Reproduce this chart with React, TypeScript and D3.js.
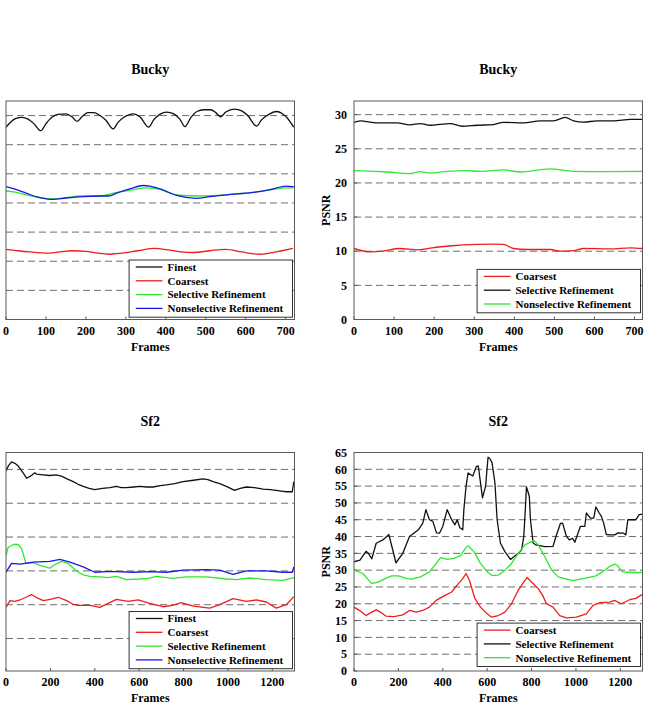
import React from 'react';
import * as d3 from 'd3';

type Pt = [number, number];

// ---- axis ticks ----
const BUCKY_FRAME_TICKS = [0, 100, 200, 300, 400, 500, 600, 700];
const SF2_FRAME_TICKS = [0, 200, 400, 600, 800, 1000, 1200];
const BUCKY_PSNR_TICKS = [0, 5, 10, 15, 20, 25, 30];
const SF2_PSNR_TICKS = [0, 5, 10, 15, 20, 25, 30, 35, 40, 45, 50, 55, 60, 65];
const BUCKY_QUALITY_GRID = [30, 35, 40, 45, 50, 55, 60];
const SF2_QUALITY_GRID = [30, 35, 40, 45, 50, 55];

// ---- Bucky, quality per frame ----
const buckyFinest: Pt[] = [
  [0, 58.0], [12, 58.9], [25, 59.5], [40, 59.7], [55, 59.4], [70, 58.6], [87, 57.4],
  [100, 58.6], [115, 59.7], [130, 60.2], [150, 60.3], [165, 59.8], [178, 59.0],
  [190, 59.8], [205, 60.5], [220, 60.5], [235, 60.0], [250, 59.2], [268, 57.7],
  [280, 58.8], [295, 59.7], [318, 60.3], [335, 59.8], [357, 58.0], [370, 59.3],
  [385, 60.2], [402, 60.6], [420, 60.3], [435, 59.4], [448, 58.1], [462, 59.6],
  [478, 60.7], [495, 61.0], [512, 61.0], [525, 60.5], [537, 59.8], [550, 60.6],
  [572, 61.1], [590, 60.8], [605, 60.0], [627, 58.2], [640, 59.3], [660, 60.3],
  [677, 60.7], [692, 60.3], [705, 59.5], [720, 58.0],
];
const buckyCoarsest: Pt[] = [
  [0, 37.05], [30, 36.8], [60, 36.6], [108, 36.4], [135, 36.6], [165, 36.8],
  [200, 36.7], [230, 36.4], [258, 36.2], [290, 36.4], [330, 36.8], [371, 37.2],
  [410, 36.9], [440, 36.6], [467, 36.5], [510, 36.8], [550, 37.05], [590, 36.6],
  [633, 36.2], [660, 36.4], [690, 36.8], [718, 37.2],
];
const buckySelective: Pt[] = [
  [0, 47.05], [20, 46.9], [50, 46.4], [80, 45.95], [114, 45.7], [150, 45.9],
  [185, 46.2], [235, 46.2], [277, 46.8], [320, 47.3], [352, 47.6], [380, 47.4],
  [427, 46.4], [477, 46.2], [551, 46.4], [618, 46.8], [660, 47.2], [702, 47.6], [720, 47.6],
];
const buckyNonselective: Pt[] = [
  [0, 47.8], [20, 47.4], [50, 46.7], [80, 46.0], [118, 45.6], [150, 45.85],
  [193, 46.1], [235, 46.2], [257, 46.2], [277, 46.7], [310, 47.4], [343, 48.0],
  [360, 47.9], [390, 47.3], [427, 46.3], [477, 45.8], [510, 46.1], [551, 46.4],
  [618, 46.8], [660, 47.3], [702, 47.9], [720, 47.8],
];

// ---- Bucky, PSNR per frame ----
const buckyCoarsestPsnr: Pt[] = [
  [0, 10.4], [40, 9.9], [72, 10.0], [113, 10.4], [162, 10.2], [195, 10.5],
  [245, 10.8], [307, 11.0], [348, 11.05], [373, 11.0], [398, 10.4], [432, 10.25],
  [490, 10.25], [515, 10.0], [548, 10.1], [573, 10.4], [640, 10.35], [690, 10.5], [720, 10.4],
];
const buckySelectivePsnr: Pt[] = [
  [0, 28.87], [15, 29.1], [57, 28.8], [107, 28.8], [140, 28.5], [165, 28.7],
  [190, 28.45], [240, 28.7], [270, 28.3], [307, 28.45], [348, 28.55], [373, 28.87],
  [423, 28.8], [465, 29.1], [498, 29.1], [527, 29.6], [548, 29.1], [573, 28.9],
  [607, 29.1], [648, 29.1], [690, 29.3], [720, 29.3],
];
const buckyNonselectivePsnr: Pt[] = [
  [0, 21.8], [82, 21.6], [140, 21.37], [165, 21.65], [190, 21.45], [232, 21.7],
  [282, 21.8], [315, 21.7], [373, 21.9], [415, 21.6], [490, 22.05], [548, 21.7],
  [623, 21.65], [720, 21.7],
];

// ---- Sf2, quality per frame ----
const sf2Finest: Pt[] = [
  [0, 54.8], [12, 55.6], [25, 56.1], [40, 55.9], [55, 55.5], [75, 54.6], [93, 53.7],
  [110, 54.0], [130, 54.5], [138, 54.3], [165, 54.2], [198, 54.1], [225, 54.2],
  [250, 54.0], [275, 53.6], [303, 53.2], [325, 52.8], [348, 52.5], [375, 52.2],
  [400, 52.0], [435, 52.2], [468, 52.3], [498, 52.5], [520, 52.3], [543, 52.3],
  [575, 52.4], [603, 52.5], [633, 52.4], [663, 52.4], [695, 52.6], [723, 52.7],
  [760, 52.9], [798, 53.2], [845, 53.4], [888, 53.6], [910, 53.5], [933, 53.2],
  [963, 52.9], [993, 52.5], [1030, 51.9], [1055, 52.2], [1083, 52.4], [1120, 52.3],
  [1158, 52.1], [1190, 52.0], [1218, 51.9], [1240, 51.8], [1263, 51.7], [1290, 51.7],
  [1297, 53.2],
];
const sf2Coarsest: Pt[] = [
  [0, 34.6], [18, 35.6], [40, 35.5], [63, 35.7], [90, 36.1], [115, 36.5],
  [140, 36.0], [168, 35.6], [200, 35.8], [235, 36.1], [273, 35.6], [300, 35.1],
  [325, 34.9], [378, 34.9], [423, 34.6], [460, 35.2], [498, 35.8], [550, 35.5],
  [595, 35.7], [648, 35.2], [708, 34.7], [750, 34.9], [790, 35.3], [843, 34.8],
  [918, 34.5], [963, 35.0], [1023, 35.9], [1083, 35.5], [1128, 35.7], [1173, 35.4],
  [1218, 34.5], [1263, 35.0], [1297, 36.2],
];
const sf2Selective: Pt[] = [
  [0, 42.3], [10, 43.5], [33, 43.9], [55, 43.9], [70, 43.3], [90, 41.1],
  [123, 41.2], [153, 40.8], [198, 40.4], [213, 40.8], [250, 41.4], [280, 41.1],
  [300, 40.5], [325, 39.8], [350, 39.4], [378, 39.2], [423, 39.1], [460, 39.0],
  [498, 39.2], [543, 38.7], [603, 38.8], [640, 38.9], [678, 39.2], [753, 38.9],
  [813, 39.1], [903, 39.1], [993, 38.8], [1038, 38.7], [1098, 38.95], [1173, 38.7],
  [1248, 38.6], [1297, 39.0],
];
const sf2Nonselective: Pt[] = [
  [0, 39.8], [25, 41.1], [63, 41.0], [123, 41.3], [198, 41.4], [243, 41.7],
  [288, 41.3], [348, 40.6], [400, 39.8], [450, 39.9], [498, 39.9], [573, 39.8],
  [648, 39.9], [723, 39.8], [798, 40.1], [903, 40.2], [963, 40.1], [1023, 39.5],
  [1083, 40.0], [1173, 40.0], [1248, 39.8], [1290, 39.8], [1297, 40.6],
];

// ---- Sf2, PSNR per frame ----
const sf2CoarsestPsnr: Pt[] = [
  [0, 19.0], [30, 17.8], [55, 16.5], [80, 17.5], [100, 18.2], [120, 17.5],
  [145, 16.3], [180, 16.2], [220, 16.7], [250, 18.0], [280, 17.5], [310, 18.0],
  [340, 19.0], [370, 21.0], [410, 22.5], [440, 23.5], [470, 26.0], [490, 27.5],
  [505, 29.0], [520, 27.0], [545, 21.5], [570, 19.0], [600, 17.0], [620, 16.0],
  [650, 16.5], [680, 17.5], [710, 20.0], [740, 24.0], [765, 26.5], [780, 27.8],
  [800, 26.5], [830, 24.5], [850, 22.5], [867, 20.0], [897, 19.0], [927, 16.5],
  [957, 15.8], [1002, 16.0], [1047, 17.0], [1077, 19.5], [1107, 20.3], [1152, 20.5],
  [1174, 21.0], [1204, 20.0], [1242, 21.2], [1270, 21.6], [1300, 22.8],
];
const sf2SelectivePsnr: Pt[] = [
  [0, 32.5], [27, 33.0], [54, 35.6], [65, 35.0], [80, 33.4], [100, 38.0],
  [130, 39.0], [157, 40.6], [189, 32.2], [220, 35.0], [250, 40.0], [290, 42.0],
  [310, 44.0], [324, 48.0], [340, 45.0], [355, 44.5], [372, 41.1], [385, 41.0],
  [400, 43.0], [420, 48.0], [440, 45.0], [455, 43.5], [465, 45.0], [477, 42.6],
  [490, 42.0], [495, 48.0], [505, 55.0], [514, 58.9], [535, 58.0], [552, 60.9],
  [560, 61.0], [579, 51.5], [593, 55.0], [604, 63.6], [612, 63.2], [622, 62.0],
  [635, 56.0], [645, 45.0], [660, 38.0], [680, 35.5], [705, 33.2], [720, 34.0],
  [740, 35.0], [755, 36.0], [765, 40.0], [772, 48.0], [777, 54.8], [790, 52.0],
  [795, 45.0], [807, 38.1], [820, 37.5], [860, 37.0], [897, 37.1], [910, 40.0],
  [930, 43.9], [940, 44.0], [957, 40.1], [970, 39.0], [985, 39.5], [995, 38.3],
  [1020, 43.0], [1040, 43.0], [1047, 47.0], [1065, 45.5], [1080, 45.5], [1090, 48.8],
  [1105, 47.0], [1115, 46.0], [1125, 44.0], [1137, 40.6], [1155, 40.5], [1175, 40.5],
  [1190, 41.1], [1215, 41.0], [1225, 40.5], [1234, 45.0], [1255, 45.0], [1270, 45.0],
  [1285, 46.5], [1300, 46.7],
];
const sf2NonselectivePsnr: Pt[] = [
  [0, 30.0], [40, 29.0], [80, 26.0], [110, 26.5], [140, 27.5], [170, 28.3],
  [200, 28.3], [240, 27.5], [260, 27.3], [300, 28.0], [340, 29.5], [370, 32.0],
  [390, 33.7], [420, 33.2], [450, 33.5], [480, 34.3], [505, 36.8], [515, 37.2],
  [540, 35.5], [570, 32.0], [600, 29.5], [622, 28.4], [650, 28.5], [680, 30.0],
  [710, 32.0], [740, 35.0], [770, 37.5], [800, 38.5], [812, 38.8], [830, 37.5],
  [860, 34.0], [890, 30.0], [920, 28.0], [950, 27.5], [985, 26.9], [1010, 27.2],
  [1050, 27.7], [1090, 28.3], [1120, 29.5], [1150, 31.0], [1174, 31.8], [1185, 31.5],
  [1210, 29.5], [1250, 29.3], [1300, 29.3],
];

const BLACK = '#111111';
const RED = '#f01c1c';
const GREEN = '#2ee82e';
const BLUE = '#1717e6';
const FONT = '"Liberation Serif", "Times New Roman", serif';

interface Series {
  name: string;
  color: string;
  points: Pt[];
}

interface PanelProps {
  id: string;
  left: number;
  top: number;
  width: number;
  height: number;
  title: string;
  xMax: number;
  xTicks: number[];
  yDomain: [number, number];
  grid: number[];
  yLabels?: number[];
  series: Series[];
  legendGap: number;
  smooth: boolean;
}

function Panel(p: PanelProps) {
  const x = d3.scaleLinear().domain([0, p.xMax]).range([p.left, p.left + p.width]);
  const y = d3.scaleLinear().domain(p.yDomain).range([p.top + p.height, p.top]);
  const line = d3
    .line<Pt>()
    .x((d) => x(d[0]))
    .y((d) => y(d[1]))
    .curve(p.smooth ? d3.curveMonotoneX : d3.curveLinear);

  const bottom = p.top + p.height;
  const right = p.left + p.width;
  const rowH = 13.8;
  const legW = 163.4;
  const legH = p.series.length * rowH + 2;
  const legX = right - 2 - legW;
  const legY = bottom - p.legendGap - legH;

  return (
    <g>
      <defs>
        <clipPath id={`clip-${p.id}`}>
          <rect x={p.left} y={p.top} width={p.width} height={p.height} />
        </clipPath>
      </defs>
      <text
        x={p.left + p.width / 2}
        y={p.top - 27}
        textAnchor="middle"
        fontFamily={FONT}
        fontWeight="bold"
        fontSize={14}
      >
        {p.title}
      </text>

      {p.grid.map((g) => (
        <line
          key={`g${g}`}
          x1={p.left}
          x2={right}
          y1={y(g)}
          y2={y(g)}
          stroke="#6e6e6e"
          strokeWidth={1}
          strokeDasharray="7,4"
        />
      ))}

      {p.xTicks.map((t) => (
        <g key={`x${t}`}>
          <line x1={x(t)} x2={x(t)} y1={bottom} y2={bottom - 3} stroke="#555" />
          <text
            x={x(t)}
            y={bottom + 15}
            textAnchor="middle"
            fontFamily={FONT}
            fontWeight="bold"
            fontSize={12}
          >
            {t}
          </text>
        </g>
      ))}
      <text
        x={p.left + p.width / 2}
        y={bottom + 31}
        textAnchor="middle"
        fontFamily={FONT}
        fontWeight="bold"
        fontSize={12}
      >
        Frames
      </text>

      {p.yLabels && (
        <g>
          {p.yLabels.map((t) => (
            <g key={`y${t}`}>
              <line x1={p.left} x2={p.left + 3} y1={y(t)} y2={y(t)} stroke="#555" />
              <text
                x={p.left - 7}
                y={y(t)}
                dy="0.35em"
                textAnchor="end"
                fontFamily={FONT}
                fontWeight="bold"
                fontSize={12}
              >
                {t}
              </text>
            </g>
          ))}
          <text
            transform={`translate(${p.left - 28},${p.top + p.height / 2}) rotate(-90)`}
            textAnchor="middle"
            dy="0.35em"
            fontFamily={FONT}
            fontWeight="bold"
            fontSize={12}
          >
            PSNR
          </text>
        </g>
      )}

      <g clipPath={`url(#clip-${p.id})`}>
        {p.series.map((s) => (
          <path
            key={s.name}
            d={line(s.points) ?? ''}
            fill="none"
            stroke={s.color}
            strokeWidth={1.3}
            strokeLinejoin="round"
          />
        ))}
      </g>

      <rect
        x={p.left}
        y={p.top}
        width={p.width}
        height={p.height}
        fill="none"
        stroke="#5a5a5a"
        strokeWidth={1}
      />

      <g>
        <rect x={legX} y={legY} width={legW} height={legH} fill="#fff" stroke="#333" strokeWidth={1} />
        {p.series.map((s, i) => {
          const cy = legY + 7 + i * rowH;
          return (
            <g key={`l${s.name}`}>
              <line x1={legX + 6.7} x2={legX + 33.4} y1={cy} y2={cy} stroke={s.color} strokeWidth={1.3} />
              <text
                x={legX + 38.4}
                y={cy}
                dy="0.35em"
                fontFamily={FONT}
                fontWeight="bold"
                fontSize={11}
              >
                {s.name}
              </text>
            </g>
          );
        })}
      </g>
    </g>
  );
}

export default function App() {
  const leftX = 6;
  const rightX = 354;
  const w = 288.5;
  const topY = 101;
  const botY = 452.5;
  const h = 218.5;

  return (
    <svg
      width={657}
      height={708}
      viewBox="0 0 657 708"
      style={{ position: 'absolute', left: 0, top: 0, background: '#fff' }}
    >
      <Panel
        id="bq"
        left={leftX}
        top={topY}
        width={w}
        height={h}
        title="Bucky"
        xMax={722}
        xTicks={BUCKY_FRAME_TICKS}
        yDomain={[25, 62.5]}
        grid={BUCKY_QUALITY_GRID}
        legendGap={2.3}
        smooth
        series={[
          { name: 'Finest', color: BLACK, points: buckyFinest },
          { name: 'Coarsest', color: RED, points: buckyCoarsest },
          { name: 'Selective Refinement', color: GREEN, points: buckySelective },
          { name: 'Nonselective Refinement', color: BLUE, points: buckyNonselective },
        ]}
      />
      <Panel
        id="bp"
        left={rightX}
        top={topY}
        width={w}
        height={h}
        title="Bucky"
        xMax={720}
        xTicks={BUCKY_FRAME_TICKS}
        yDomain={[0, 32]}
        grid={BUCKY_PSNR_TICKS.filter((t) => t > 0)}
        yLabels={BUCKY_PSNR_TICKS}
        legendGap={6.7}
        smooth
        series={[
          { name: 'Coarsest', color: RED, points: buckyCoarsestPsnr },
          { name: 'Selective Refinement', color: BLACK, points: buckySelectivePsnr },
          { name: 'Nonselective Refinement', color: GREEN, points: buckyNonselectivePsnr },
        ]}
      />
      <Panel
        id="sq"
        left={leftX}
        top={botY}
        width={w}
        height={h}
        title="Sf2"
        xMax={1300}
        xTicks={SF2_FRAME_TICKS}
        yDomain={[25.2, 57.5]}
        grid={SF2_QUALITY_GRID}
        legendGap={2.3}
        smooth={false}
        series={[
          { name: 'Finest', color: BLACK, points: sf2Finest },
          { name: 'Coarsest', color: RED, points: sf2Coarsest },
          { name: 'Selective Refinement', color: GREEN, points: sf2Selective },
          { name: 'Nonselective Refinement', color: BLUE, points: sf2Nonselective },
        ]}
      />
      <Panel
        id="sp"
        left={rightX}
        top={botY}
        width={w}
        height={h}
        title="Sf2"
        xMax={1300}
        xTicks={SF2_FRAME_TICKS}
        yDomain={[0, 65]}
        grid={SF2_PSNR_TICKS.filter((t) => t > 0 && t < 65)}
        yLabels={SF2_PSNR_TICKS}
        legendGap={4.5}
        smooth={false}
        series={[
          { name: 'Coarsest', color: RED, points: sf2CoarsestPsnr },
          { name: 'Selective Refinement', color: BLACK, points: sf2SelectivePsnr },
          { name: 'Nonselective Refinement', color: GREEN, points: sf2NonselectivePsnr },
        ]}
      />
    </svg>
  );
}
